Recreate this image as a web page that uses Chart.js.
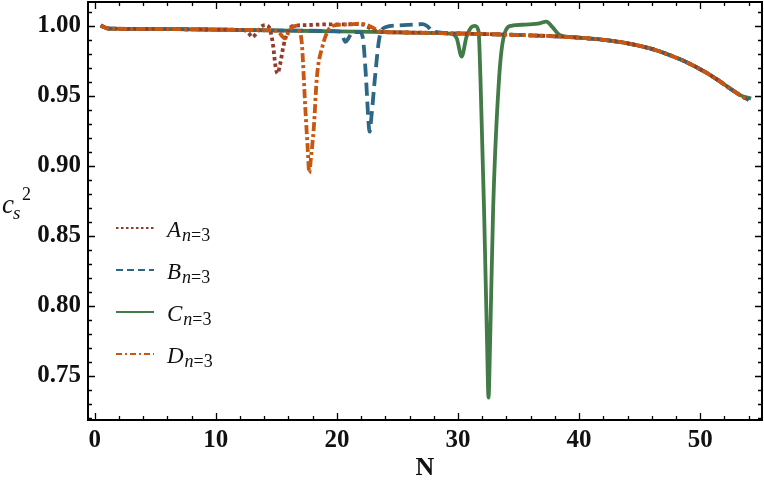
<!DOCTYPE html>
<html>
<head>
<meta charset="utf-8">
<script src="https://cdn.jsdelivr.net/npm/chart.js@4.4.0/dist/chart.umd.min.js"></script>
<style>
  html, body { margin: 0; padding: 0; background: #fff; }
  #wrap { width: 764px; height: 488px; position: relative; }
</style>
</head>
<body>
<div id="wrap"><canvas id="soundSpeedChart"></canvas></div>
<script>
// --- data ---
const xTicks = [0, 10, 20, 30, 40, 50];
const yTicks = [0.75, 0.80, 0.85, 0.90, 0.95, 1.00];

const nA = [0.5, 0.8, 1.2, 4, 8, 11, 12.3, 12.7, 13.0, 13.3, 13.7, 14.1, 14.4, 14.7, 14.95, 15.1, 15.3, 15.6, 16.0, 16.5, 17.5, 19, 20.5, 21.5, 22.2, 22.8, 23.5, 26, 30, 34, 38, 40, 42, 44, 46, 47.5, 49, 50.5, 51.5, 52.5, 53.3, 54.0];
const cA = [1.000, 0.999, 0.998, 0.9978, 0.9975, 0.9972, 0.997, 0.995, 0.992, 0.994, 0.999, 1.0005, 0.999, 0.988, 0.970, 0.966, 0.972, 0.986, 0.997, 1.000, 1.0005, 1.001, 1.001, 1.0012, 1.0008, 0.998, 0.9958, 0.9952, 0.9945, 0.9937, 0.9925, 0.9915, 0.990, 0.9875, 0.9835, 0.979, 0.9735, 0.9665, 0.961, 0.955, 0.9505, 0.947];

const nB = [0.5, 0.8, 1.2, 4, 8, 12, 16, 20.2, 20.45, 20.7, 20.95, 21.3, 21.9, 22.15, 22.4, 22.55, 22.7, 22.85, 23.15, 23.5, 24.0, 25.1, 26.5, 27.1, 27.5, 27.9, 30, 34, 38, 40, 42, 44, 46, 47.5, 49, 50.5, 51.5, 52.5, 53.3, 54.0];
const cB = [1.000, 0.999, 0.998, 0.9978, 0.9975, 0.9971, 0.9966, 0.996, 0.993, 0.9885, 0.991, 0.9955, 0.9955, 0.991, 0.9635, 0.940, 0.9244, 0.935, 0.9635, 0.991, 0.999, 1.0003, 1.001, 1.0012, 0.9995, 0.996, 0.9945, 0.9937, 0.9925, 0.9915, 0.990, 0.9875, 0.9835, 0.979, 0.9735, 0.9665, 0.961, 0.955, 0.9505, 0.947];

const nC = [0.5, 0.8, 1.2, 4, 8, 12, 16, 20, 24, 27, 29.5, 29.9, 30.3, 30.7, 31.1, 31.4, 31.7, 31.85, 32.15, 32.4, 32.52, 32.65, 32.9, 33.4, 33.8, 34.4, 35.5, 36.6, 37.3, 37.8, 38.4, 40, 42, 44, 46, 47.5, 49, 50.5, 51.5, 52.5, 53.3, 54.2];
const cC = [1.0005, 0.999, 0.998, 0.9978, 0.9975, 0.9971, 0.9966, 0.996, 0.9955, 0.995, 0.9943, 0.991, 0.978, 0.992, 0.999, 1.000, 0.996, 0.9635, 0.869, 0.774, 0.7345, 0.774, 0.869, 0.9635, 0.993, 1.000, 1.0008, 1.0015, 1.003, 0.999, 0.9935, 0.9915, 0.990, 0.9875, 0.9835, 0.979, 0.9735, 0.9665, 0.961, 0.955, 0.9505, 0.948];

const nD = [0.5, 0.8, 1.2, 4, 8, 12, 14.8, 15.2, 15.7, 16.1, 16.6, 16.9, 17.1, 17.4, 17.6, 17.72, 17.85, 18.1, 18.35, 18.8, 19.3, 19.8, 21, 21.8, 22.5, 23.1, 23.7, 26, 30, 34, 38, 40, 42, 44, 46, 47.5, 49, 50.5, 51.5, 52.5, 53.3, 53.9];
const cD = [1.000, 0.999, 0.998, 0.9978, 0.9975, 0.9971, 0.9966, 0.9955, 0.991, 0.997, 1.000, 0.996, 0.988, 0.940, 0.911, 0.895, 0.905, 0.928, 0.9635, 0.985, 0.997, 1.0003, 1.001, 1.0015, 1.0005, 0.998, 0.9957, 0.9952, 0.9945, 0.9937, 0.9925, 0.9915, 0.990, 0.9875, 0.9835, 0.979, 0.9735, 0.9665, 0.961, 0.955, 0.9505, 0.947];

const toPoints = (ns, vs) => ns.map((n, i) => ({ x: n, y: vs[i] }));

const serif = '"Liberation Serif", "DejaVu Serif", serif';

// frame with inward ticks on all four sides (Mathematica style)
const frameTicks = {
  id: 'frameTicks',
  afterDatasetsDraw(chart) {
    const { ctx, chartArea: a, scales: { x, y } } = chart;
    ctx.save();
    ctx.strokeStyle = '#000';
    ctx.lineWidth = 1.3;
    ctx.setLineDash([]);
    ctx.beginPath();
    for (let v = 0; v <= 54; v += 2) {
      const px = Math.round(x.getPixelForValue(v)) + 0.5;
      const len = v % 10 === 0 ? 7 : 4;
      ctx.moveTo(px, a.bottom); ctx.lineTo(px, a.bottom - len);
      ctx.moveTo(px, a.top); ctx.lineTo(px, a.top + len);
    }
    for (let k = 72; k <= 101; k++) {
      const py = Math.round(y.getPixelForValue(k / 100)) + 0.5;
      const len = k % 5 === 0 ? 7 : 4;
      ctx.moveTo(a.left, py); ctx.lineTo(a.left + len, py);
      ctx.moveTo(a.right, py); ctx.lineTo(a.right - len, py);
    }
    ctx.stroke();
    ctx.lineWidth = 2;
    ctx.strokeRect(a.left, a.top, a.right - a.left, a.bottom - a.top);
    ctx.restore();
  },
  afterDraw(chart) {
    const { ctx } = chart;
    ctx.save();
    ctx.fillStyle = '#111';
    ctx.textBaseline = 'alphabetic';
    // y title c_s^2
    ctx.font = 'italic 27px ' + serif;
    ctx.fillText('c', 2, 213);
    ctx.font = 'italic 19px ' + serif;
    ctx.fillText('s', 13, 219);
    ctx.font = '18px ' + serif;
    ctx.fillText('2', 22, 200);

    // legend
    chart.data.datasets.forEach((ds, i) => {
      const ly = 228 + i * 42;
      ctx.strokeStyle = ds.borderColor;
      ctx.lineWidth = 2.2;
      ctx.setLineDash(ds.legendDash);
      ctx.beginPath();
      ctx.moveTo(116, ly); ctx.lineTo(154, ly);
      ctx.stroke();
      ctx.setLineDash([]);
      ctx.fillStyle = '#111';
      ctx.font = 'italic 23px ' + serif;
      ctx.fillText(ds.label, 167, ly + 9);
      const w = ctx.measureText(ds.label).width;
      ctx.font = 'italic 18px ' + serif;
      ctx.fillText('n', 168 + w, ly + 13);
      const wn = ctx.measureText('n').width;
      ctx.font = '18px ' + serif;
      ctx.fillText('=3', 168 + w + wn, ly + 13);
    });
    ctx.restore();
  }
};

const lineStyle = { fill: false, pointRadius: 0, borderWidth: 3.8, cubicInterpolationMode: 'monotone', borderCapStyle: 'butt' };

new Chart(document.getElementById('soundSpeedChart'), {
  type: 'line',
  data: {
    datasets: [
      { ...lineStyle, label: 'A', data: toPoints(nA, cA), borderColor: '#933b2c', borderDash: [3.5, 3], legendDash: [2.5, 2.5], order: 2 },
      { ...lineStyle, label: 'B', data: toPoints(nB, cB), borderColor: '#2d6786', borderDash: [13, 6], legendDash: [7, 4], order: 3 },
      { ...lineStyle, label: 'C', data: toPoints(nC, cC), borderColor: '#427b45', borderDash: [], legendDash: [], order: 4 },
      { ...lineStyle, label: 'D', data: toPoints(nD, cD), borderColor: '#c9570f', borderDash: [9, 3, 3, 3], legendDash: [6, 3, 2, 3], order: 1 }
    ]
  },
  options: {
    responsive: true,
    maintainAspectRatio: false,
    animation: false,
    devicePixelRatio: 1,
    layout: { padding: { left: 0, top: 2, right: 2, bottom: 0 } },
    plugins: { legend: { display: false }, tooltip: { enabled: false } },
    scales: {
      x: {
        type: 'linear',
        min: -0.55,
        max: 55.1,
        afterBuildTicks: s => { s.ticks = xTicks.map(v => ({ value: v })); },
        afterFit: s => { s.height = 68; s.paddingLeft = 0; s.paddingRight = 0; },
        grid: { display: false, drawTicks: false },
        border: { display: false },
        ticks: { color: '#111', padding: 6, font: { family: serif, size: 25, weight: 'bold' }, maxRotation: 0 },
        title: { display: true, text: 'N', color: '#111', font: { family: serif, size: 26, weight: 'bold' }, padding: { top: 0, bottom: 4 } }
      },
      y: {
        type: 'linear',
        min: 0.7185,
        max: 1.017,
        afterBuildTicks: s => { s.ticks = yTicks.map(v => ({ value: v })); },
        afterFit: s => { s.width = 88; s.paddingTop = 0; s.paddingBottom = 0; },
        grid: { display: false, drawTicks: false },
        border: { display: false },
        ticks: { color: '#111', padding: 7, font: { family: serif, size: 25, weight: 'bold' }, callback: v => v.toFixed(2) }
      }
    }
  },
  plugins: [frameTicks]
});
</script>
</body>
</html>
